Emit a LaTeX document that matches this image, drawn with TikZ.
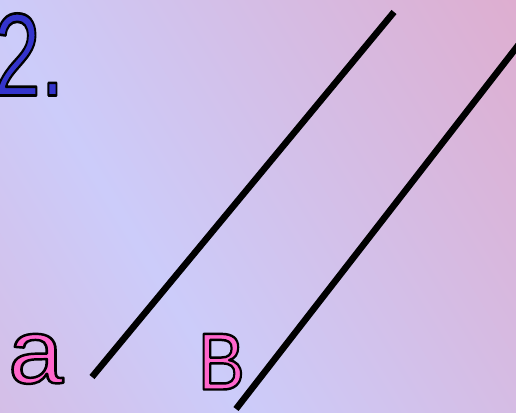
\documentclass[tikz,border=0pt]{standalone}
\usepackage{fontspec}
\setmainfont{Liberation Sans}
\usepackage{graphicx}
\definecolor{bandblue}{RGB}{204,204,250}
\definecolor{cornerpink}{RGB}{222,174,208}
\definecolor{numblue}{RGB}{52,52,204}
\definecolor{labelpink}{RGB}{255,102,204}
% filled glyphs with a black rim
\newcommand{\rimtext}[2]{\special{pdf:literal direct #1 w 1 j 0 G 2 Tr}#2\special{pdf:literal direct 0 Tr}}

\begin{document}
\begin{tikzpicture}[x=0.02cm, y=0.02cm,
  numtext/.style={text=numblue, inner sep=0pt, anchor=base west, font=\fontsize{67}{70}\selectfont},
  labeltext/.style={text=labelpink, inner sep=0pt, anchor=base west},
  parline/.style={line width=3.7pt}]
\useasboundingbox (0,0) rectangle (516,412);
% background, pink at both corners and a blue band across
\begin{scope}
\clip (0,0) rectangle (516,412);
\begin{scope}[transform canvas={rotate=31.4}]
\shade[left color=cornerpink, right color=bandblue] (-245,-280) rectangle (206,360);
\shade[left color=bandblue, right color=cornerpink] (205,-280) rectangle (655,360);
\end{scope}
\end{scope}
% the two lines
\coordinate (aLow) at (92,35);
\coordinate (aHigh) at (394,400);
\coordinate (bLow) at (236,3);
\coordinate (bHigh) at (530,382);
\draw[parline] (aLow) -- (aHigh);
\draw[parline] (bLow) -- (bHigh);
% labels
\node[numtext] (num) at (-6.8,316.5) {\scalebox{0.72}[1]{\rimtext{1.5}{2.}}};
\node[labeltext, font=\fontsize{52}{56}\selectfont] (labA) at (8,29) {\scalebox{1.08}[1]{\rimtext{1.4}{a}}};
\node[labeltext, font=\fontsize{46}{50}\selectfont] (labB) at (197.5,22.5) {\scalebox{0.87}[1]{\rimtext{1.4}{B}}};
\end{tikzpicture}
\end{document}
